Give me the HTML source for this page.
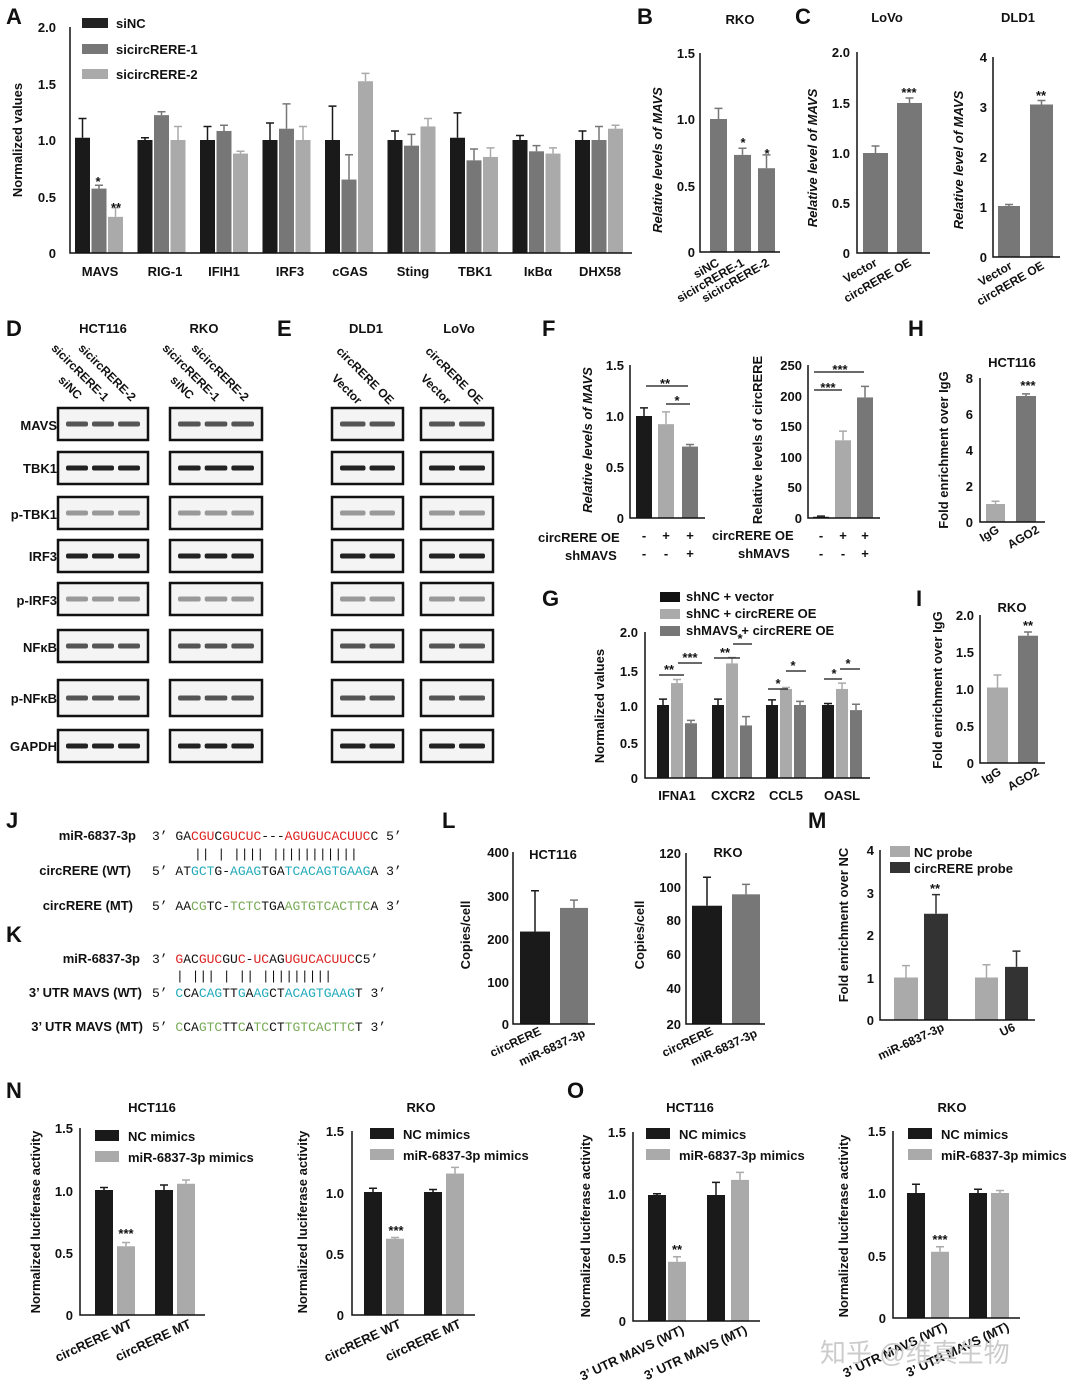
<!DOCTYPE html>
<html><head><meta charset="utf-8"><style>
body{margin:0;background:#fff}
svg{display:block}
text{font-family:"Liberation Sans","Noto Sans CJK SC",sans-serif;font-weight:bold;fill:#111}
.t{font-size:13px}.s{font-size:12px}.L{font-size:22px}
.seq{font-family:"Liberation Mono",monospace;font-weight:normal;font-size:13px}
.r{fill:#d22}.b{fill:#2ab}.g{fill:#7a5}
</style></head><body>
<svg id="s" width="1080" height="1396" viewBox="0 0 1080 1396" xmlns="http://www.w3.org/2000/svg">
<rect width="1080" height="1396" fill="#fff"/>
<g id="bars"></g>
<g stroke="#111" stroke-width="1.5" fill="none">
<path d="M70,27V253H632"/><path d="M700,53V252H780"/><path d="M857,52V253H930"/><path d="M993,57V257H1060"/>
<path d="M630,365V518H705"/><path d="M808,365V518H880"/><path d="M980,378V522H1045"/>
<path d="M645,632V778H870"/><path d="M980,615V763H1045"/>
<path d="M513,852V1024H595"/><path d="M686,853V1024H765"/><path d="M880,850V1020H1035"/>
<path d="M80,1128V1315H205"/><path d="M352,1131V1315H475"/><path d="M633,1132V1321H760"/><path d="M893,1131V1318H1020"/>
</g>
<text class="L" x="6" y="24">A</text><text class="L" x="637" y="24">B</text><text class="L" x="795" y="24">C</text>
<text class="L" x="6" y="336">D</text><text class="L" x="277" y="336">E</text><text class="L" x="542" y="336">F</text><text class="L" x="908" y="336">H</text>
<text class="L" x="542" y="606">G</text><text class="L" x="916" y="606">I</text>
<text class="L" x="6" y="828">J</text><text class="L" x="6" y="942">K</text><text class="L" x="442" y="828">L</text><text class="L" x="808" y="828">M</text>
<text class="L" x="6" y="1098">N</text><text class="L" x="567" y="1098">O</text>
<!-- A -->
<g class="t" text-anchor="end"><text x="56" y="32">2.0</text><text x="56" y="89">1.5</text><text x="56" y="145">1.0</text><text x="56" y="202">0.5</text><text x="56" y="258">0</text></g>
<text class="t" transform="translate(22,140) rotate(-90)" text-anchor="middle">Normalized values</text>
<rect x="82" y="18" width="26" height="10" fill="#222"/><text class="t" x="116" y="28">siNC</text>
<rect x="82" y="44" width="26" height="10" fill="#777"/><text class="t" x="116" y="54">sicircRERE-1</text>
<rect x="82" y="69" width="26" height="10" fill="#aaa"/><text class="t" x="116" y="79">sicircRERE-2</text>
<g class="t" text-anchor="middle"><text x="100" y="276">MAVS</text><text x="165" y="276">RIG-1</text><text x="224" y="276">IFIH1</text><text x="290" y="276">IRF3</text><text x="350" y="276">cGAS</text><text x="413" y="276">Sting</text><text x="475" y="276">TBK1</text><text x="538" y="276">IκBα</text><text x="600" y="276">DHX58</text>
<text x="98" y="186">*</text><text x="116" y="212">**</text></g>
<!-- B -->
<text class="t" x="740" y="24" text-anchor="middle">RKO</text>
<g class="t" text-anchor="end"><text x="695" y="58">1.5</text><text x="695" y="124">1.0</text><text x="695" y="191">0.5</text><text x="695" y="257">0</text></g>
<text class="t" font-style="italic" transform="translate(662,160) rotate(-90)" text-anchor="middle">Relative levels of MAVS</text>
<g class="s" text-anchor="end"><text transform="translate(720,265) rotate(-30)">siNC</text><text transform="translate(745,265) rotate(-30)">sicircRERE-1</text><text transform="translate(770,265) rotate(-30)">sicircRERE-2</text></g>
<text class="t" x="743" y="147" text-anchor="middle">*</text><text class="t" x="767" y="158" text-anchor="middle">*</text>
<!-- C -->
<text class="t" x="887" y="22" text-anchor="middle">LoVo</text><text class="t" x="1018" y="22" text-anchor="middle">DLD1</text>
<g class="t" text-anchor="end"><text x="850" y="57">2.0</text><text x="850" y="108">1.5</text><text x="850" y="158">1.0</text><text x="850" y="208">0.5</text><text x="850" y="258">0</text>
<text x="987" y="62">4</text><text x="987" y="112">3</text><text x="987" y="162">2</text><text x="987" y="212">1</text><text x="987" y="262">0</text></g>
<text class="t" font-style="italic" transform="translate(817,158) rotate(-90)" text-anchor="middle">Relative level of MAVS</text>
<text class="t" font-style="italic" transform="translate(963,160) rotate(-90)" text-anchor="middle">Relative level of MAVS</text>
<g class="s" text-anchor="end"><text transform="translate(878,265) rotate(-30)">Vector</text><text transform="translate(912,265) rotate(-30)">circRERE OE</text><text transform="translate(1013,268) rotate(-30)">Vector</text><text transform="translate(1045,268) rotate(-30)">circRERE OE</text></g>
<text class="t" x="909" y="97" text-anchor="middle">***</text><text class="t" x="1041" y="100" text-anchor="middle">**</text>
<!-- D/E -->
<g class="t" text-anchor="middle"><text x="103" y="333">HCT116</text><text x="204" y="333">RKO</text><text x="366" y="333">DLD1</text><text x="459" y="333">LoVo</text></g>
<g class="s" text-anchor="end"><text transform="translate(77,400) rotate(45)">siNC</text><text transform="translate(104,402) rotate(45)">sicircRERE-1</text><text transform="translate(131,402) rotate(45)">sicircRERE-2</text>
<text transform="translate(189,400) rotate(45)">siNC</text><text transform="translate(215,402) rotate(45)">sicircRERE-1</text><text transform="translate(244,402) rotate(45)">sicircRERE-2</text>
<text transform="translate(357,405) rotate(45)">Vector</text><text transform="translate(389,405) rotate(45)">circRERE OE</text>
<text transform="translate(446,405) rotate(45)">Vector</text><text transform="translate(478,405) rotate(45)">circRERE OE</text></g>
<g class="t" text-anchor="end"><text x="57" y="430">MAVS</text><text x="57" y="473">TBK1</text><text x="57" y="519">p-TBK1</text><text x="57" y="561">IRF3</text><text x="57" y="605">p-IRF3</text><text x="57" y="652">NFκB</text><text x="57" y="703">p-NFκB</text><text x="57" y="751">GAPDH</text></g>
<g id="blots"></g>
<!-- F -->
<g class="t" text-anchor="end"><text x="624" y="370">1.5</text><text x="624" y="421">1.0</text><text x="624" y="472">0.5</text><text x="624" y="523">0</text>
<text x="802" y="370">250</text><text x="802" y="401">200</text><text x="802" y="431">150</text><text x="802" y="462">100</text><text x="802" y="492">50</text><text x="802" y="523">0</text></g>
<text class="t" font-style="italic" transform="translate(592,440) rotate(-90)" text-anchor="middle">Relative levels of MAVS</text>
<text class="t" transform="translate(762,440) rotate(-90)" text-anchor="middle">Relative levels of circRERE</text>
<g class="t"><text x="538" y="542">circRERE OE</text><text x="565" y="560">shMAVS</text><text x="712" y="540">circRERE OE</text><text x="738" y="558">shMAVS</text></g>
<g class="t" text-anchor="middle"><text x="644" y="540">-</text><text x="666" y="540">+</text><text x="690" y="540">+</text><text x="644" y="558">-</text><text x="666" y="558">-</text><text x="690" y="558">+</text>
<text x="821" y="540">-</text><text x="843" y="540">+</text><text x="865" y="540">+</text><text x="821" y="558">-</text><text x="843" y="558">-</text><text x="865" y="558">+</text>
<text x="665" y="388">**</text><text x="677" y="405">*</text><text x="840" y="374">***</text><text x="828" y="392">***</text></g>
<g stroke="#111" stroke-width="1.2"><path d="M646,386H688M666,404H690M814,372H864M814,390H842"/></g>
<!-- H -->
<text class="t" x="1012" y="367" text-anchor="middle">HCT116</text>
<g class="t" text-anchor="end"><text x="973" y="383">8</text><text x="973" y="419">6</text><text x="973" y="455">4</text><text x="973" y="491">2</text><text x="973" y="527">0</text></g>
<text class="t" transform="translate(948,450) rotate(-90)" text-anchor="middle">Fold enrichment over IgG</text>
<g class="s" text-anchor="end"><text transform="translate(1000,532) rotate(-30)">IgG</text><text transform="translate(1040,532) rotate(-30)">AGO2</text></g>
<text class="t" x="1028" y="390" text-anchor="middle">***</text>
<!-- G -->
<rect x="660" y="592" width="20" height="10" fill="#111"/><text class="t" x="686" y="601">shNC + vector</text>
<rect x="660" y="609" width="20" height="10" fill="#aaa"/><text class="t" x="686" y="618">shNC + circRERE OE</text>
<rect x="660" y="626" width="20" height="10" fill="#777"/><text class="t" x="686" y="635">shMAVS + circRERE OE</text>
<g class="t" text-anchor="end"><text x="638" y="637">2.0</text><text x="638" y="676">1.5</text><text x="638" y="711">1.0</text><text x="638" y="748">0.5</text><text x="638" y="783">0</text></g>
<text class="t" transform="translate(604,706) rotate(-90)" text-anchor="middle">Normalized values</text>
<g class="t" text-anchor="middle"><text x="677" y="800">IFNA1</text><text x="733" y="800">CXCR2</text><text x="786" y="800">CCL5</text><text x="842" y="800">OASL</text>
<text x="669" y="674">**</text><text x="690" y="662">***</text><text x="725" y="657">**</text><text x="740" y="643">*</text><text x="778" y="688">*</text><text x="793" y="670">*</text><text x="834" y="678">*</text><text x="848" y="668">*</text></g>
<g stroke="#111" stroke-width="1.2"><path d="M659,675H684M678,663H702M714,658H740M733,644H752M768,689H788M786,671H806M824,679H842M840,669H860"/></g>
<!-- I -->
<text class="t" x="1012" y="612" text-anchor="middle">RKO</text>
<g class="t" text-anchor="end"><text x="974" y="620">2.0</text><text x="974" y="657">1.5</text><text x="974" y="694">1.0</text><text x="974" y="731">0.5</text><text x="974" y="768">0</text></g>
<text class="t" transform="translate(942,690) rotate(-90)" text-anchor="middle">Fold enrichment over IgG</text>
<g class="s" text-anchor="end"><text transform="translate(1002,774) rotate(-30)">IgG</text><text transform="translate(1040,774) rotate(-30)">AGO2</text></g>
<text class="t" x="1028" y="630" text-anchor="middle">**</text>
<!-- J K -->
<g class="t" text-anchor="end"><text x="136" y="840">miR-6837-3p</text><text x="131" y="875">circRERE (WT)</text><text x="133" y="910">circRERE (MT)</text>
<text x="140" y="963">miR-6837-3p</text><text x="142" y="997">3’ UTR MAVS (WT)</text><text x="143" y="1031">3’ UTR MAVS (MT)</text></g>
<text class="seq" x="152" y="840">3’ GA<tspan class="r">CGU</tspan>C<tspan class="r">GUCUC</tspan>---<tspan class="r">AGUGUCACUUC</tspan>C 5’</text>
<text class="seq" x="194" y="858">|| | ||||   |||||||||||</text>
<text class="seq" x="152" y="875">5’ AT<tspan class="b">GCT</tspan>G-<tspan class="b">AGAG</tspan>TGA<tspan class="b">TCACAGTGAAG</tspan>A 3’</text>
<text class="seq" x="152" y="910">5’ AA<tspan class="g">CG</tspan>TC-<tspan class="g">TCTC</tspan>TGA<tspan class="g">AGTGTCACTTC</tspan>A 3’</text>
<text class="seq" x="152" y="963">3’ <tspan class="r">G</tspan>AC<tspan class="r">GUC</tspan>GU<tspan class="r">C</tspan>-<tspan class="r">UC</tspan>AG<tspan class="r">UGUCACUUC</tspan>C5’</text>
<text class="seq" x="176" y="980">| |||  | ||  |||||||||</text>
<text class="seq" x="152" y="997">5’ <tspan class="b">C</tspan>CA<tspan class="b">CAG</tspan>TT<tspan class="b">G</tspan>A<tspan class="b">AG</tspan>CT<tspan class="b">ACAGTGAAG</tspan>T 3’</text>
<text class="seq" x="152" y="1031">5’ <tspan class="g">C</tspan>CA<tspan class="g">GTC</tspan>TT<tspan class="g">C</tspan>A<tspan class="g">TC</tspan>CT<tspan class="g">TGTCACTTC</tspan>T 3’</text>
<!-- L -->
<text class="t" x="553" y="859" text-anchor="middle">HCT116</text><text class="t" x="728" y="857" text-anchor="middle">RKO</text>
<g class="t" text-anchor="end"><text x="509" y="857">400</text><text x="509" y="901">300</text><text x="509" y="944">200</text><text x="509" y="987">100</text><text x="509" y="1029">0</text>
<text x="681" y="858">120</text><text x="681" y="892">100</text><text x="681" y="925">80</text><text x="681" y="959">60</text><text x="681" y="993">40</text><text x="681" y="1029">20</text></g>
<text class="t" transform="translate(470,935) rotate(-90)" text-anchor="middle">Copies/cell</text>
<text class="t" transform="translate(644,935) rotate(-90)" text-anchor="middle">Copies/cell</text>
<g class="s" text-anchor="end"><text transform="translate(542,1034) rotate(-25)">circRERE</text><text transform="translate(586,1036) rotate(-25)">miR-6837-3p</text><text transform="translate(714,1034) rotate(-25)">circRERE</text><text transform="translate(758,1036) rotate(-25)">miR-6837-3p</text></g>
<!-- M -->
<rect x="890" y="846" width="20" height="11" fill="#aaa"/><text class="t" x="914" y="857">NC probe</text>
<rect x="890" y="862" width="20" height="11" fill="#333"/><text class="t" x="914" y="873">circRERE probe</text>
<g class="t" text-anchor="end"><text x="874" y="855">4</text><text x="874" y="898">3</text><text x="874" y="940">2</text><text x="874" y="983">1</text><text x="874" y="1025">0</text></g>
<text class="t" transform="translate(848,925) rotate(-90)" text-anchor="middle">Fold enrichment over NC</text>
<g class="s" text-anchor="end"><text transform="translate(945,1030) rotate(-25)">miR-6837-3p</text><text transform="translate(1016,1030) rotate(-25)">U6</text></g>
<text class="t" x="935" y="893" text-anchor="middle">**</text>
<!-- N/O -->
<text class="t" x="152" y="1112" text-anchor="middle">HCT116</text><text class="t" x="421" y="1112" text-anchor="middle">RKO</text>
<text class="t" x="690" y="1112" text-anchor="middle">HCT116</text><text class="t" x="952" y="1112" text-anchor="middle">RKO</text>
<g id="legs"></g>
<g class="t" text-anchor="end"><text x="73" y="1133">1.5</text><text x="73" y="1196">1.0</text><text x="73" y="1258">0.5</text><text x="73" y="1320">0</text>
<text x="344" y="1136">1.5</text><text x="344" y="1198">1.0</text><text x="344" y="1259">0.5</text><text x="344" y="1320">0</text>
<text x="626" y="1137">1.5</text><text x="626" y="1199">1.0</text><text x="626" y="1263">0.5</text><text x="626" y="1326">0</text>
<text x="886" y="1136">1.5</text><text x="886" y="1198">1.0</text><text x="886" y="1261">0.5</text><text x="886" y="1323">0</text></g>
<g class="t" text-anchor="middle"><text transform="translate(40,1222) rotate(-90)">Normalized luciferase activity</text><text transform="translate(307,1222) rotate(-90)">Normalized luciferase activity</text><text transform="translate(590,1226) rotate(-90)">Normalized luciferase activity</text><text transform="translate(848,1226) rotate(-90)">Normalized luciferase activity</text>
<text x="126" y="1238">***</text><text x="396" y="1235">***</text><text x="677" y="1254">**</text><text x="940" y="1244">***</text></g>
<g class="t" text-anchor="end"><text transform="translate(133,1327) rotate(-25)">circRERE WT</text><text transform="translate(192,1327) rotate(-25)">circRERE MT</text>
<text transform="translate(402,1327) rotate(-25)">circRERE WT</text><text transform="translate(462,1327) rotate(-25)">circRERE MT</text>
<text transform="translate(685,1333) rotate(-25)">3’ UTR MAVS (WT)</text><text transform="translate(748,1333) rotate(-25)">3’ UTR MAVS (MT)</text>
<text transform="translate(948,1330) rotate(-25)">3’ UTR MAVS (WT)</text><text transform="translate(1010,1330) rotate(-25)">3’ UTR MAVS (MT)</text></g>
<text x="820" y="1362" style="font-size:26px;font-weight:normal;fill:#ccc">知乎 @维真生物</text>
</svg>
<script>
var NS="http://www.w3.org/2000/svg",B=document.getElementById("bars");
function R(p,x,y,w,h,c){var r=document.createElementNS(NS,"rect");r.setAttribute("x",x);r.setAttribute("y",y);r.setAttribute("width",w);r.setAttribute("height",h);r.setAttribute("fill",c);p.appendChild(r);return r}
function L(p,d,c,w){var e=document.createElementNS(NS,"path");e.setAttribute("d",d);e.setAttribute("stroke",c||"#111");e.setAttribute("stroke-width",w||1.5);e.setAttribute("fill","none");p.appendChild(e)}
var K="#1a1a1a",M="#777",G="#aaa";
function bar(x,w,y0,u,v,e,c){var h=v*u;R(B,x,y0-h,w,h,c);var t=y0-h-e*u,cx=x+w/2;L(B,"M"+cx+","+(y0-h)+"V"+t+"M"+(cx-4)+","+t+"H"+(cx+4),c)}
var A=[[1.02,.57,.32],[1,1.22,1],[1,1.08,.88],[1,1.1,1],[1,.65,1.52],[1,.95,1.12],[1.02,.82,.85],[1,.9,.88],[1,1,1.1]],E=[[.17,.03,.08],[.02,.03,.12],[.12,.05,.02],[.15,.22,.12],[.3,.22,.07],[.08,.1,.07],[.22,.1,.08],[.04,.05,.05],[.08,.12,.03]];
A.forEach(function(g,i){var x=75+i*62.5;[K,M,G].forEach(function(c,j){bar(x+j*16.5,15,253,113,g[j],E[i][j],c)})});
bar(710,17,252,133,1,.08,M);bar(734,17,252,133,.73,.05,M);bar(758,17,252,133,.63,.1,M);
bar(863,25,253,100,1,.07,M);bar(897,25,253,100,1.5,.05,M);
bar(998,22,257,50,1.02,.03,M);bar(1030,23,257,50,3.05,.08,M);
bar(636,16,518,102,1,.08,K);bar(658,16,518,102,.92,.12,G);bar(682,16,518,102,.7,.02,M);
bar(813,16,518,.612,2,1,K);bar(835,16,518,.612,127,15,G);bar(857,16,518,.612,197,18,M);
bar(986,19,522,18,1,.15,G);bar(1016,20,522,18,7,.12,M);
var Gd=[[1,1.3,.75],[1,1.57,.72],[1,1.22,1],[1,1.22,.93]],Ge=[[.08,.05,.04],[.08,.08,.12],[.07,.02,.05],[.02,.08,.08]];
Gd.forEach(function(g,i){var x=[657,712,766,822][i];[K,G,M].forEach(function(c,j){bar(x+j*14,12,778,73,g[j],Ge[i][j],c)})});
bar(987,21,763,74,1.02,.17,G);bar(1018,20,763,74,1.72,.05,M);
bar(520,30,1024,.43,215,95,K);bar(560,28,1024,.43,270,18,M);
bar(692,30,1024,1.425,83,20,K);bar(732,28,1024,1.425,91,7,M);
bar(894,24,1020,42.5,1,.28,G);bar(924,24,1020,42.5,2.5,.45,"#333");bar(975,23,1020,42.5,1,.3,G);bar(1005,23,1020,42.5,1.25,.37,"#333");
[[80,1315,125,[95,117,155,177],[1,.55,1,1.05],[.02,.03,.04,.03]],[352,1315,123,[364,386,424,446],[1,.62,1,1.15],[.03,.01,.02,.05]],[633,1321,126,[648,668,707,731],[1,.47,1,1.12],[.01,.04,.1,.06]],[893,1318,125,[907,931,969,991],[1,.53,1,1]]].forEach(function(p){var e=p[5]||[.07,.04,.03,.02];p[3].forEach(function(x,j){bar(x,18,p[1],p[2],p[4][j],e[j],j%2?G:K)})});
var Lg=document.getElementById("legs");
[[95,1130],[370,1128],[646,1128],[908,1128]].forEach(function(p){R(Lg,p[0],p[1],24,11,K);R(Lg,p[0],p[1]+21,24,11,G);
 var t1=document.createElementNS(NS,"text");t1.setAttribute("x",p[0]+33);t1.setAttribute("y",p[1]+11);t1.setAttribute("class","t");t1.textContent="NC mimics";Lg.appendChild(t1);
 var t2=document.createElementNS(NS,"text");t2.setAttribute("x",p[0]+33);t2.setAttribute("y",p[1]+32);t2.setAttribute("class","t");t2.textContent="miR-6837-3p mimics";Lg.appendChild(t2)});
var Bl=document.getElementById("blots"),rows=[408,452,497,540,583,630,680,730];
[[58,90,3],[170,92,3],[332,71,2],[421,72,2]].forEach(function(b){rows.forEach(function(y,ri){var h=ri==6?36:32;var r=R(Bl,b[0],y,b[1],h,"#f4f4f4");r.setAttribute("stroke","#111");r.setAttribute("stroke-width","2.5");
 for(var k=0;k<b[2];k++){var w=(b[1]-12)/b[2];var d=ri==1||ri==3||ri==7?"#222":ri==2||ri==4?"#999":"#555";var bb=R(Bl,b[0]+6+k*w+2,y+h/2-2.5,w-4,5,d);bb.setAttribute("rx",2)}})});
</script>
</body></html>
